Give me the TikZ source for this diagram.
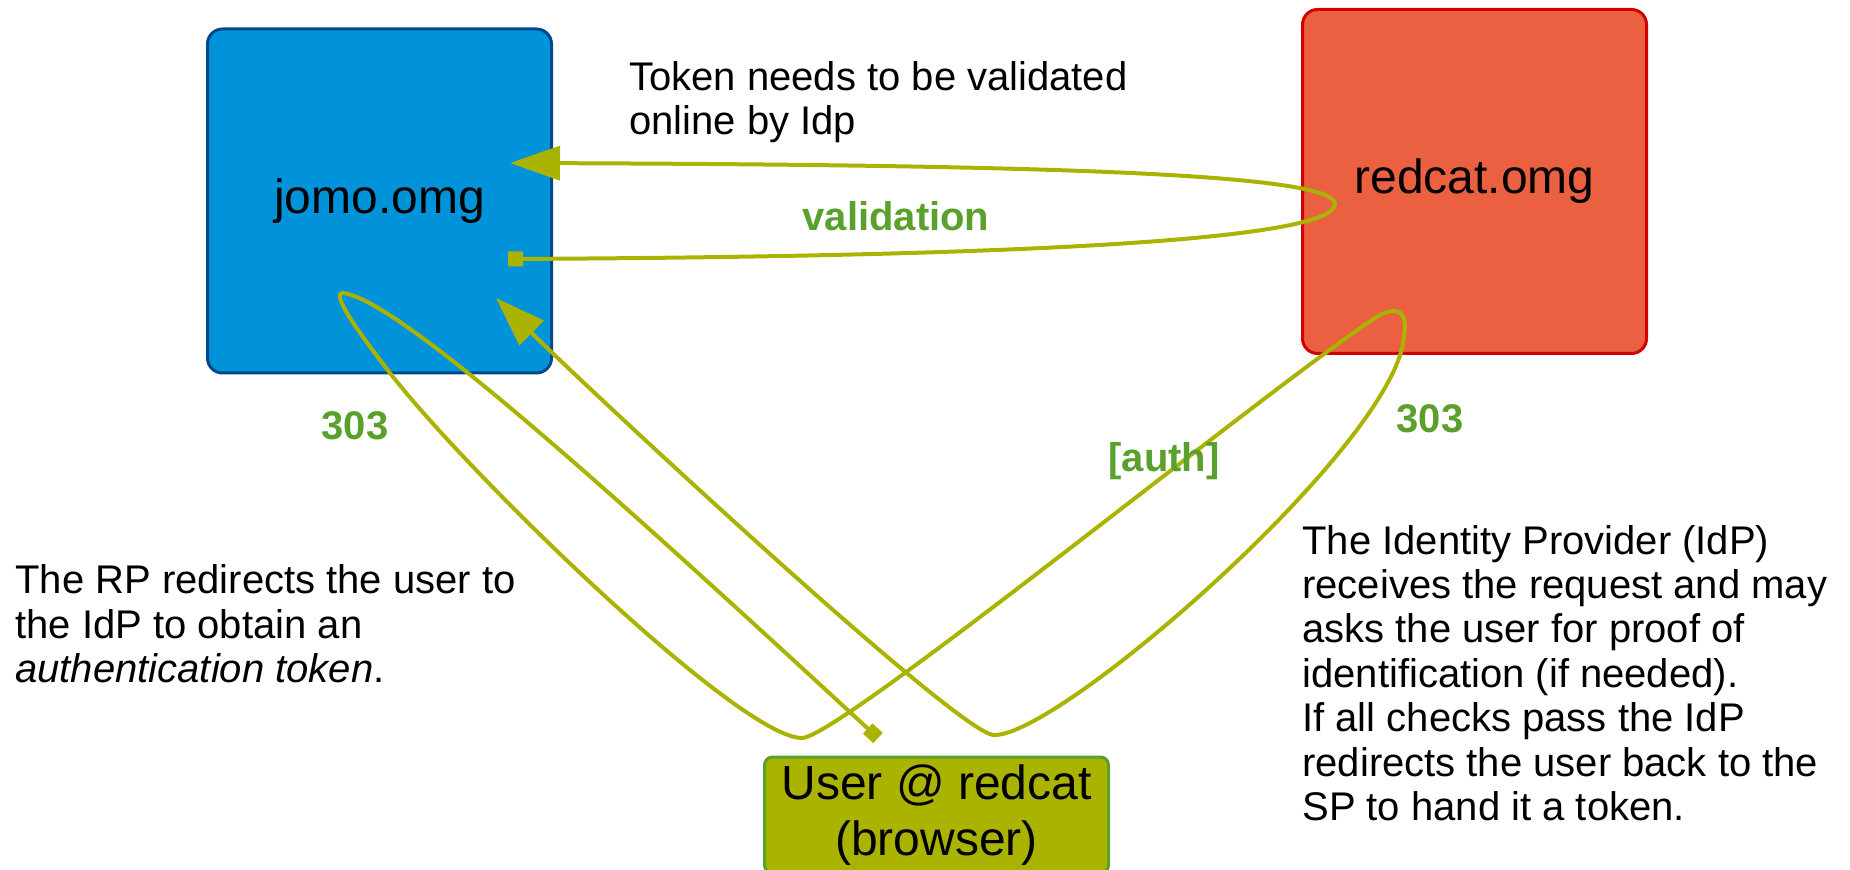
\documentclass[tikz,border=0pt]{standalone}
\usepackage{fontspec}
\setmainfont{Liberation Sans}
\definecolor{JomoBlue}  {RGB}{0,147,217}
\definecolor{JomoEdge}  {RGB}{0,74,140}
\definecolor{RedcatFill}{RGB}{234,96,64}
\definecolor{RedcatEdge}{RGB}{212,0,0}
\definecolor{FlowOlive} {RGB}{170,180,0}
\definecolor{LabelGreen}{RGB}{90,160,44}
\usetikzlibrary{arrows.meta,positioning}

\begin{document}
\begin{tikzpicture}[x=0.5pt,y=-0.5pt,
    every node/.style={font=\fontsize{20}{22.2}\selectfont},
    site/.style={rounded corners=7.5pt,line width=1.5pt,
      minimum width=172pt,minimum height=172pt,
      font=\fontsize{24}{28}\selectfont},
    note/.style={anchor=west,align=left,inner sep=0pt},
    flow/.style={FlowOlive,line width=2pt},
    lbl/.style={LabelGreen,font=\fontsize{20}{22}\selectfont\bfseries}]
  \useasboundingbox (0,0) rectangle (1850,870);

  % sites and the user
  \node[site,draw=JomoEdge,fill=JomoBlue] (jomo) at (379.5,201) {jomo.omg};
  \node[site,draw=RedcatEdge,fill=RedcatFill] (redcat) at (1474.5,181.5) {redcat.omg};
  \node[site,draw=LabelGreen,fill=FlowOlive,rounded corners=4pt,
        minimum height=58pt,align=center,inner sep=0pt] (user) at (936.5,815)
    {User @ redcat\\(browser)};

  % explanations
  \node[note] (tokennote) at (629,102) {Token needs to be validated\\online by Idp};
  \node[note] (rpnote) at (15,624)
    {The RP redirects the user to\\the IdP to obtain an\\\textit{authentication token}.};
  \node[note] (idpnote) at (1302,673)
    {The Identity Provider (IdP)\\receives the request and may\\asks the user for proof of\\identification (if needed).\\If all checks pass the IdP\\redirects the user back to the\\SP to hand it a token.};

  % loose ends of the flows
  \coordinate (valfrom) at (508,259);
  \coordinate (valto)   at (510,163);
  \coordinate (userdot) at (878,738);
  \coordinate (jomoin)  at (496,298);

  % validation round trip
  \draw[flow,{Square[length=7.5pt,width=7.5pt]}-{Triangle[length=25pt,width=17pt]}]
    (valfrom) .. controls (1100,256) and (1335,235) .. (1335,204)
              .. controls (1335,174) and (1050,165) .. (valto);

  % redirects via the browser
  \draw[flow,{Square[length=7pt,width=7pt]}-{Triangle[length=25pt,width=17pt]}]
    (userdot) .. controls (620,500) and (400,300) .. (343,293)
              .. controls (331,293) and (355,328) .. (390,373)
              .. controls (470,476) and (740,738) .. (802,738)
              .. controls (840,738) and (1290,370) .. (1380,315)
              .. controls (1398,306) and (1408,312) .. (1404,335)
              .. controls (1400,440) and (1060,737) .. (994,735)
              .. controls (960,735) and (600,400) .. (jomoin);

  % flow labels
  \foreach \n/\p/\t in {valid/{(896,216)}/validation,rp303/{(355,426)}/303,
                        idp303/{(1430,419)}/303,auth/{(1164,461)}/{[auth]}}
    \node[lbl] (\n) at \p {\t};
\end{tikzpicture}
\end{document}
